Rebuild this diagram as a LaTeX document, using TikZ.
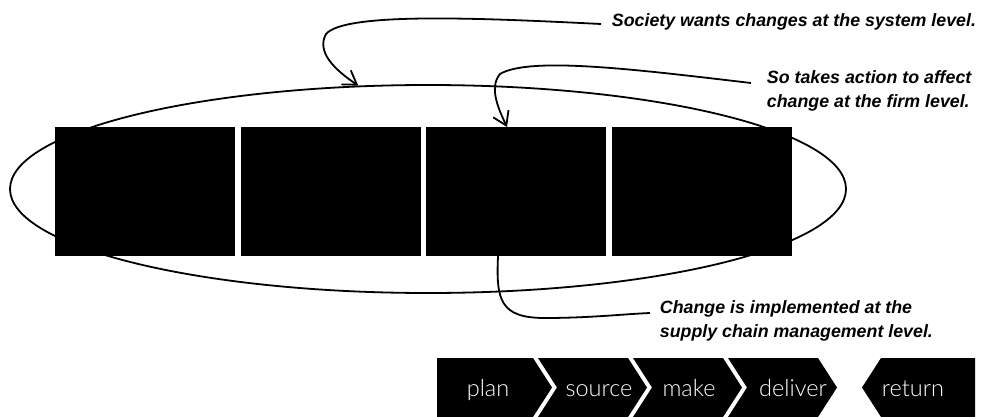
\documentclass[tikz,border=0pt]{standalone}
\usepackage{fontspec}
\setmainfont{Liberation Sans}
\newfontfamily\thinfont{Lato Light}
\usetikzlibrary{arrows.meta,positioning,shapes.geometric}
\tikzset{blk/.style={fill=black,minimum width=180pt,minimum height=129pt,inner sep=0pt,outer sep=0pt},
note/.style={font=\fontsize{17.8}{23.5}\selectfont\bfseries\itshape,align=left,inner sep=0pt,anchor=west},
stage/.style={text=white,font=\thinfont\fontsize{23.5}{23.5}\selectfont,inner sep=0pt,anchor=base},
barb/.style={-{Straight Barb[length=13pt,width=17pt]}}}
\begin{document}
\begin{tikzpicture}[x=1pt,y=-1pt,line width=1.8pt]
\useasboundingbox (0,0) rectangle (984,417);
\node[blk] (b1) at (145,191.5) {};
\node[blk,right=5.5pt of b1] (b2) {};
\node[blk,right=5.5pt of b2] (b3) {};
\node[blk,right=5.5pt of b3] (b4) {};
\node[draw,ellipse,minimum width=836pt,minimum height=208pt,inner sep=0pt] (ring) at (428,189) {};
\node[note] (soc) at (611,22) {Society wants changes at the system level.};
\node[note] (firm) at (766,91) {So takes action to affect\\change at the firm level.};
\node[note] (scm) at (659,321) {Change is implemented at the\\supply chain management level.};
\draw[barb] ([xshift=-10pt,yshift=-2pt]soc.west) .. controls (480,18) and (345,12) .. (326,34) .. controls (316,52) and (335,70) .. (ring.124);
\draw[barb] ([xshift=-15pt,yshift=8pt]firm.west) .. controls (640,70) and (530,56) .. (500,74) .. controls (488,88) and (500,112) .. ([xshift=-9pt]b3.north);
\draw ([xshift=-18pt]b3.south) .. controls (496,300) and (500,318) .. (545,318) .. controls (590,318) and (625,314) .. ([xshift=-9pt,yshift=8pt]scm.west);
\fill (437,358) -- (533,358) -- (552,387.5) -- (533,417) -- (437,417) -- cycle;
\foreach \l in {538,633,728}
  \fill (\l,358) -- ++(90,0) -- ++(19,29.5) -- ++(-19,29.5) -- ++(-90,0) -- ++(19,-29.5) -- cycle;
\fill (862,387.5) -- (881,358) -- (975,358) -- (975,417) -- (881,417) -- cycle;
\node[stage] (plan) at (488,396) {plan};
\node[stage] (source) at (599,396) {source};
\node[stage] (make) at (689,396) {make};
\node[stage] (deliver) at (793,396) {deliver};
\node[stage] (return) at (913,396) {return};
\end{tikzpicture}
\end{document}
